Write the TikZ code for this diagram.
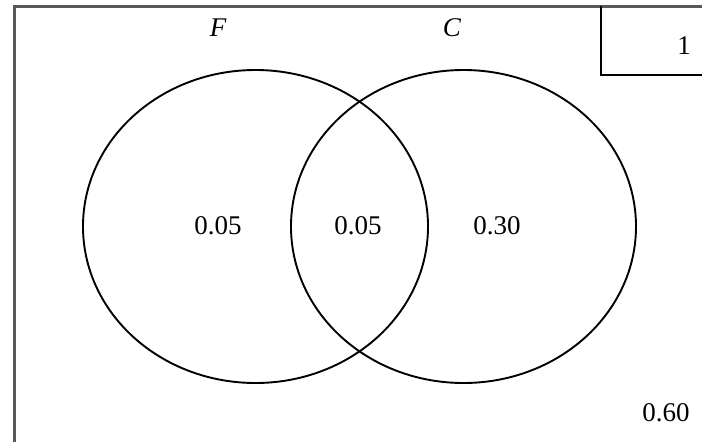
\documentclass[tikz,border=0pt]{standalone}
\usepackage{fontspec}
\setmainfont{Liberation Serif}
\begin{document}
\begin{tikzpicture}[x=1pt,y=-1pt,
  setcurve/.style={draw=black,line width=1.9pt},
  lbl/.style={font=\fontsize{27}{30}\selectfont,inner sep=0pt},
  setname/.style={font=\fontsize{27}{30}\selectfont\itshape,inner sep=0pt}]
\useasboundingbox (0,0) rectangle (702,442);
\draw[draw=black!65,line width=3pt] (14,448) -- (14,6) -- (710,6);
\draw[line width=1.6pt] (601,6) -- (601,75) -- (710,75);
\draw[setcurve] (255.5,226.5) ellipse [x radius=172.5,y radius=156.5];
\draw[setcurve] (463.5,226.5) ellipse [x radius=172.5,y radius=156.5];
\node[setname] (f) at (218,28) {F};
\node[setname] (c) at (452,28) {C};
\node[lbl] (one) at (684,46) {1};
\node[lbl] (a) at (218,226) {0.05};
\node[lbl] (b) at (358,226) {0.05};
\node[lbl] (d) at (497,226) {0.30};
\node[lbl] (e) at (666,413) {0.60};
\end{tikzpicture}
\end{document}
